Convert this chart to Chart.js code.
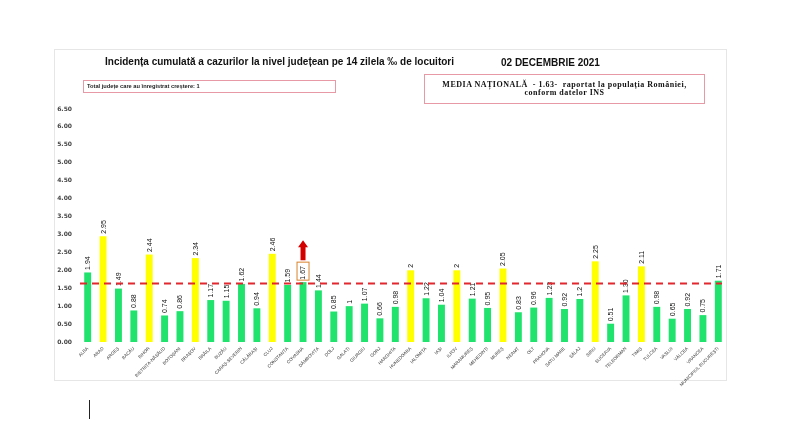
<!DOCTYPE html>
<html>
<head>
<meta charset="utf-8">
<script src="https://cdn.jsdelivr.net/npm/chart.js@4.4.1/dist/chart.umd.min.js"></script>
<style>
  html, body { margin: 0; padding: 0; background: #fff; }
  #wrap { position: relative; width: 800px; height: 429px; overflow: hidden; }
  #frame { position: absolute; left: 54px; top: 49px; width: 673px; height: 332px; border: 1px solid #e6e6e6; box-sizing: border-box; }
  canvas { position: absolute; left: 0; top: 0; }
  .t { position: absolute; white-space: nowrap; font-family: "Liberation Sans", Arial, sans-serif; color: #111; }
  #title { left: 105px; top: 56px; font-size: 10px; font-weight: bold; }
  #date { left: 501px; top: 57px; font-size: 10px; font-weight: bold; }
  #box1 { position: absolute; left: 83px; top: 80px; width: 253px; height: 13px; border: 1px solid #e79aa6; box-sizing: border-box; }
  #box1 span { position: absolute; left: 3px; top: 2px; font-family: "Liberation Sans", Arial, sans-serif; font-weight: bold; font-size: 5.7px; color: #222; white-space: nowrap; }
  #box2 { position: absolute; left: 424px; top: 74px; width: 281px; height: 30px; border: 1px solid #e79aa6; box-sizing: border-box; text-align: center; font-family: "Liberation Serif", "Times New Roman", serif; font-weight: bold; font-size: 8px; line-height: 7.5px; letter-spacing: 0.5px; color: #111; padding-top: 6px; }
  #cursor { position: absolute; left: 89px; top: 400px; width: 1px; height: 19px; background: #222; }
</style>
</head>
<body>
<div id="wrap">
  <div id="frame"></div>
  <canvas id="c" width="800" height="429"></canvas>
  <div class="t" id="title">Incidența cumulată a cazurilor la nivel județean pe 14 zilela ‰ de locuitori</div>
  <div class="t" id="date">02 DECEMBRIE 2021</div>
  <div id="box1"><span>Total județe care au înregistrat creștere: 1</span></div>
  <div id="box2">MEDIA NAȚIONALĂ&nbsp; - 1.63-&nbsp; raportat la populația României,<br>conform datelor INS</div>
  <div id="cursor"></div>
</div>
<script>
const counties = ['ALBA','ARAD','ARGEȘ','BACĂU','BIHOR','BISTRIȚA-NĂSĂUD','BOTOȘANI','BRAȘOV','BRĂILA','BUZĂU','CARAȘ-SEVERIN','CĂLĂRAȘI','CLUJ','CONSTANȚA','COVASNA','DÂMBOVIȚA','DOLJ','GALAȚI','GIURGIU','GORJ','HARGHITA','HUNEDOARA','IALOMIȚA','IAȘI','ILFOV','MARAMUREȘ','MEHEDINȚI','MUREȘ','NEAMȚ','OLT','PRAHOVA','SATU MARE','SĂLAJ','SIBIU','SUCEAVA','TELEORMAN','TIMIȘ','TULCEA','VASLUI','VÂLCEA','VRANCEA','MUNICIPIUL BUCUREȘTI'];
const incidence = [1.94,2.95,1.49,0.88,2.44,0.74,0.86,2.34,1.17,1.15,1.62,0.94,2.46,1.59,1.67,1.44,0.85,1,1.07,0.66,0.98,2,1.22,1.04,2,1.21,0.95,2.05,0.83,0.96,1.23,0.92,1.2,2.25,0.51,1.30,2.11,0.98,0.65,0.92,0.75,1.71];
const valueLabels = ['1.94','2.95','1.49','0.88','2.44','0.74','0.86','2.34','1.17','1.15','1.62','0.94','2.46','1.59','1.67','1.44','0.85','1','1.07','0.66','0.98','2','1.22','1.04','2','1.21','0.95','2.05','0.83','0.96','1.23','0.92','1.2','2.25','0.51','1.30','2.11','0.98','0.65','0.92','0.75','1.71'];
const nationalMean = 1.63;
const highThreshold = 2;
const increasedCounties = ['COVASNA'];
const yTicks = [0,0.5,1,1.5,2,2.5,3,3.5,4,4.5,5,5.5,6,6.5];

const GREEN = '#1fe36c';
const YELLOW = '#ffff00';

const overlayPlugin = {
  id: 'overlay',
  afterDatasetsDraw(chart) {
    const ctx = chart.ctx;
    const meta = chart.getDatasetMeta(0);
    const area = chart.chartArea;
    const yS = chart.scales.y;
    ctx.save();
    ctx.fillStyle = '#111';
    ctx.font = '7px "Liberation Sans", Arial, sans-serif';
    ctx.textAlign = 'left';
    ctx.textBaseline = 'middle';
    meta.data.forEach((el, i) => {
      ctx.save();
      ctx.translate(el.x, el.y - 2.5);
      ctx.rotate(-Math.PI / 2);
      ctx.fillText(valueLabels[i], 0, 0.5);
      ctx.restore();
    });
    ctx.restore();
    const ym = yS.getPixelForValue(nationalMean);
    ctx.save();
    ctx.strokeStyle = '#e2282e';
    ctx.lineWidth = 2;
    ctx.setLineDash([7, 5]);
    ctx.beginPath();
    ctx.moveTo(area.left, ym);
    ctx.lineTo(area.right - 4, ym);
    ctx.stroke();
    ctx.restore();
    increasedCounties.forEach(name => {
      const i = counties.indexOf(name);
      if (i < 0) return;
      const el = meta.data[i];
      const bx = el.x - 6, by = el.y - 20, bw = 12, bh = 18;
      ctx.save();
      ctx.strokeStyle = '#d9822b';
      ctx.lineWidth = 1;
      ctx.strokeRect(bx, by, bw, bh);
      ctx.fillStyle = '#d40000';
      const top = by - 22, bottom = by - 2;
      ctx.beginPath();
      ctx.moveTo(el.x, top);
      ctx.lineTo(el.x + 5, top + 7);
      ctx.lineTo(el.x + 2.5, top + 7);
      ctx.lineTo(el.x + 2.5, bottom);
      ctx.lineTo(el.x - 2.5, bottom);
      ctx.lineTo(el.x - 2.5, top + 7);
      ctx.lineTo(el.x - 5, top + 7);
      ctx.closePath();
      ctx.fill();
      ctx.restore();
    });
  }
};

new Chart(document.getElementById('c'), {
  type: 'bar',
  data: {
    labels: counties,
    datasets: [{
      data: incidence,
      backgroundColor: incidence.map(v => v >= highThreshold ? YELLOW : GREEN),
      borderWidth: 0,
      barPercentage: 0.9,
      categoryPercentage: 0.5
    }]
  },
  options: {
    responsive: false,
    animation: false,
    layout: { padding: { top: 109, right: 74, bottom: 42, left: 0 } },
    plugins: { legend: { display: false }, tooltip: { enabled: false }, title: { display: false } },
    scales: {
      x: {
        grid: { display: false, drawTicks: false },
        border: { display: false },
        ticks: {
          autoSkip: false, minRotation: 45, maxRotation: 45, padding: 4,
          color: '#333', font: { size: 4.5, family: '"Liberation Sans", Arial, sans-serif' }
        },
        afterFit(s) { s.height = 45; }
      },
      y: {
        min: 0, max: 6.5,
        grid: { display: false, drawTicks: false },
        border: { display: false },
        afterBuildTicks(s) { s.ticks = yTicks.map(v => ({ value: v })); },
        ticks: {
          padding: 8, color: '#444',
          font: { size: 6, weight: 'bold', family: '"DejaVu Sans", sans-serif' },
          callback: v => Number(v).toFixed(2)
        },
        afterFit(s) { s.width = 80; }
      }
    }
  },
  plugins: [overlayPlugin]
});
</script>
</body>
</html>
